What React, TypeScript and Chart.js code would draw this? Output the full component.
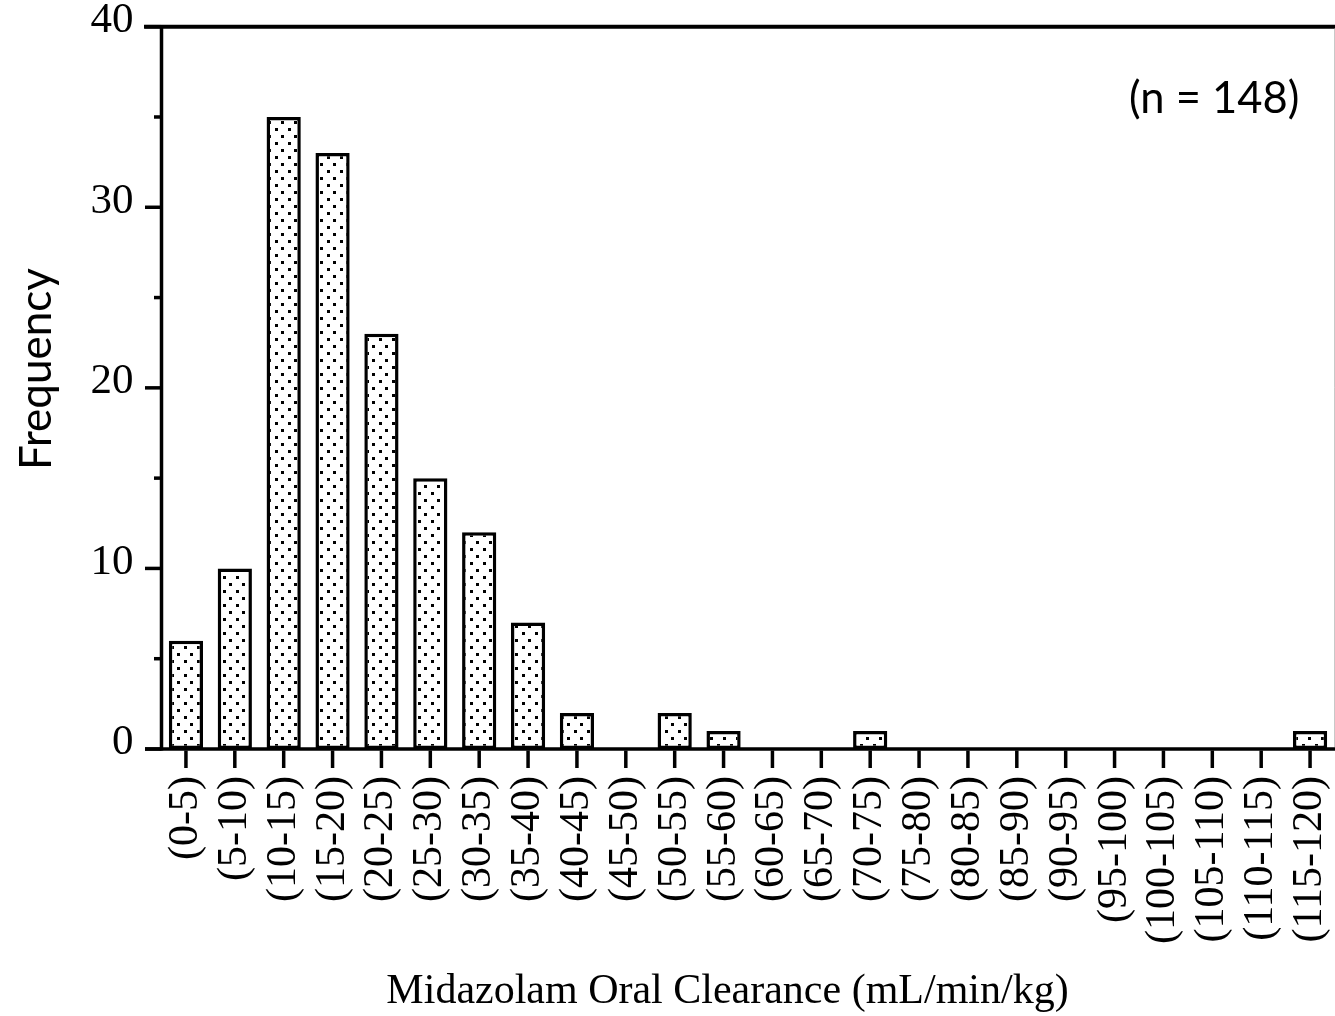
import React, { useEffect, useRef } from "react";
import { Chart, registerables } from "chart.js";

Chart.register(...registerables);

const categories = [
  "(0-5)", "(5-10)", "(10-15)", "(15-20)", "(20-25)", "(25-30)",
  "(30-35)", "(35-40)", "(40-45)", "(45-50)", "(50-55)", "(55-60)",
  "(60-65)", "(65-70)", "(70-75)", "(75-80)", "(80-85)", "(85-90)",
  "(90-95)", "(95-100)", "(100-105)", "(105-110)", "(110-115)", "(115-120)",
];
const frequencies = [6, 10, 35, 33, 23, 15, 12, 7, 2, 0, 2, 1, 0, 0, 1, 0, 0, 0, 0, 0, 0, 0, 0, 1];
const yMajorTicks = [0, 10, 20, 30, 40];
const yMinorTicks = [5, 15, 25, 35];
const xTitle = "Midazolam Oral Clearance (mL/min/kg)";
const yTitle = "Frequency";
const sampleNote = "(n = 148)";

const W = 1335;
const H = 1016;

function makeDotPattern(ctx: CanvasRenderingContext2D) {
  const c = document.createElement("canvas");
  c.width = 13;
  c.height = 14;
  const g = c.getContext("2d")!;
  g.fillStyle = "#ffffff";
  g.fillRect(0, 0, 13, 14);
  g.fillStyle = "#000000";
  g.fillRect(2, 2, 3, 3);
  g.fillRect(8, 9, 3, 3);
  return ctx.createPattern(c, "repeat")!;
}

const decorPlugin = {
  id: "decor",
  afterDraw(chart: any) {
    const { ctx, chartArea } = chart;
    const xs = chart.scales.x;
    const ys = chart.scales.y;
    const y0 = ys.getPixelForValue(0);
    const yTop = ys.getPixelForValue(40);
    const left = chartArea.left;
    const line = (x1: number, y1: number, x2: number, y2: number) => {
      ctx.beginPath();
      ctx.moveTo(x1, y1);
      ctx.lineTo(x2, y2);
      ctx.stroke();
    };
    ctx.save();
    ctx.strokeStyle = "#000";
    ctx.lineCap = "butt";
    ctx.lineWidth = 3.5;
    // bottom axis line
    line(145, y0, W, y0);
    // left axis line
    line(left, yTop - 1.5, left, y0 + 1.5);
    // y ticks
    yMajorTicks.forEach((v) => {
      const py = ys.getPixelForValue(v);
      line(145, py, left, py);
    });
    yMinorTicks.forEach((v) => {
      const py = ys.getPixelForValue(v);
      line(154, py, left, py);
    });
    // x ticks
    categories.forEach((_, i) => {
      const px = xs.getPixelForValue(i);
      line(px, y0 + 1.5, px, 768);
    });
    // top line
    ctx.lineWidth = 4;
    line(144, yTop, W, yTop);
    // right faint border
    ctx.strokeStyle = "#c8c8c8";
    ctx.lineWidth = 1;
    line(1334.5, yTop + 2, 1334.5, y0 - 2);

    // titles and note
    ctx.fillStyle = "#000";
    ctx.textBaseline = "alphabetic";
    ctx.font = '42px "Liberation Serif"';
    ctx.textAlign = "center";
    ctx.fillText(xTitle, 727.5, 1003);

    ctx.font = "44px Lato";
    ctx.save();
    ctx.translate(50.5, 369);
    ctx.rotate(-Math.PI / 2);
    ctx.textAlign = "center";
    ctx.fillText(yTitle, 0, 0);
    ctx.restore();

    ctx.font = "43.5px Lato";
    ctx.textAlign = "left";
    ctx.fillText(sampleNote, 1129, 113);
    ctx.restore();
  },
};

export default function App() {
  const ref = useRef<HTMLCanvasElement | null>(null);

  useEffect(() => {
    const canvas = ref.current!;
    const ctx = canvas.getContext("2d")!;
    const pattern = makeDotPattern(ctx);
    const chart = new Chart(canvas, {
      type: "bar",
      data: {
        labels: categories,
        datasets: [
          {
            data: frequencies,
            backgroundColor: pattern as any,
            borderColor: "#000",
            borderWidth: 3.5,
            borderSkipped: false,
            barPercentage: 0.7,
            categoryPercentage: 1,
          },
        ],
      },
      options: {
        responsive: false,
        animation: false,
        events: [],
        layout: { padding: { left: 0, right: 0.5, top: 26.7, bottom: 0 } },
        plugins: { legend: { display: false }, tooltip: { enabled: false }, title: { display: false } },
        scales: {
          x: {
            type: "category",
            offset: true,
            grid: { display: false },
            border: { display: false },
            ticks: {
              autoSkip: false,
              minRotation: 90,
              maxRotation: 90,
              padding: 19,
              color: "#000",
              font: { family: '"Liberation Serif"', size: 42, lineHeight: 1 },
            },
            afterFit: (scale: any) => {
              scale.height = H - 749;
              scale.paddingLeft = 0;
              scale.paddingRight = 0;
              scale.paddingTop = 0;
              scale.paddingBottom = 0;
            },
          },
          y: {
            type: "linear",
            min: 0,
            max: 40,
            grid: { display: false },
            border: { display: false },
            ticks: {
              stepSize: 10,
              padding: 20,
              labelOffset: -6,
              color: "#000",
              font: { family: '"Liberation Serif"', size: 43, lineHeight: 1 },
            },
            afterFit: (scale: any) => {
              scale.width = 161.5;
              scale.paddingLeft = 0;
              scale.paddingRight = 0;
              scale.paddingTop = 0;
              scale.paddingBottom = 0;
            },
          },
        },
      },
      plugins: [decorPlugin],
    });
    return () => chart.destroy();
  }, []);

  return (
    <div style={{ position: "absolute", left: 0, top: 0, width: W, height: H, background: "#fff" }}>
      <canvas ref={ref} width={W} height={H} style={{ display: "block" }} />
    </div>
  );
}
